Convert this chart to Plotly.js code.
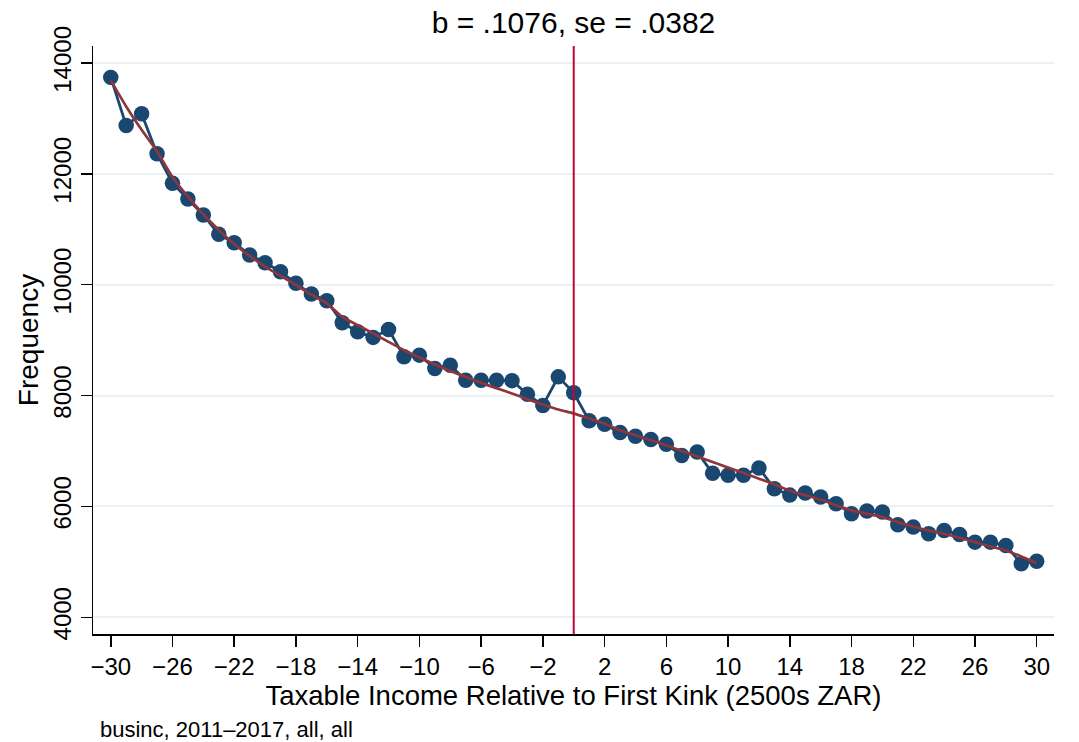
<!DOCTYPE html>
<html>
<head>
<meta charset="utf-8">
<script src="https://cdn.plot.ly/plotly-3.0.1.min.js"></script>
<style>html,body{margin:0;padding:0;background:#fff;}#chart{width:1079px;height:742px;}</style>
</head>
<body>
<div id="chart"></div>
<script>
// Bin positions (2500s ZAR relative to first kink)
const binX = [-30,-29,-28,-27,-26,-25,-24,-23,-22,-21,-20,-19,-18,-17,-16,-15,-14,-13,-12,-11,-10,-9,-8,-7,-6,-5,-4,-3,-2,-1,0,1,2,3,4,5,6,7,8,9,10,11,12,13,14,15,16,17,18,19,20,21,22,23,24,25,26,27,28,29,30];
// Observed frequency per bin
const frequency = [13740,12873,13084,12361,11832,11548,11259,10910,10759,10537,10398,10235,10025,9832,9711,9314,9151,9050,9194,8700,8730,8490,8549,8278,8278,8278,8270,8025,7821,8338,8050,7547,7483,7333,7266,7207,7122,6918,6983,6598,6562,6562,6694,6321,6205,6245,6170,6051,5870,5917,5900,5671,5628,5509,5568,5496,5357,5357,5297,4966,5014];
// Fitted counterfactual curve
const fitted = [13686,13216,12795,12403,11940,11590,11272,10988,10735,10519,10325,10162,9995,9820,9664,9422,9272,9122,8970,8820,8688,8562,8446,8338,8230,8134,8038,7935,7840,7749,7680,7586,7496,7375,7285,7194,7104,7001,6905,6802,6701,6604,6502,6399,6285,6205,6125,6020,5930,5870,5809,5718,5640,5568,5509,5436,5357,5279,5207,5099,4978];
const kinkX = 0;
const xTicks = [-30,-26,-22,-18,-14,-10,-6,-2,2,6,10,14,18,22,26,30];
const yTicks = [4000,6000,8000,10000,12000,14000];
const yTickLabels = ["4000","6000","8000","10000","12000","14000"];
const titleText = "b = .1076, se = .0382";
const xTitle = "Taxable Income Relative to First Kink (2500s ZAR)";
const yTitle = "Frequency";
const noteText = "businc, 2011\u20132017, all, all";

const FONT = "Liberation Sans, Arial, Helvetica, sans-serif";

const traces = [
  {
    x: binX, y: frequency, type: "scatter", mode: "lines+markers",
    line: {color: "#1a476f", width: 2.8},
    marker: {color: "#1a476f", size: 15.5},
    hoverinfo: "skip", showlegend: false
  },
  {
    x: binX, y: fitted, type: "scatter", mode: "lines",
    line: {color: "#90353b", width: 2.7, shape: "spline", smoothing: 0.6},
    hoverinfo: "skip", showlegend: false
  }
];

const layout = {
  width: 1079, height: 742,
  margin: {l: 93, r: 25, t: 46, b: 108},
  paper_bgcolor: "#ffffff", plot_bgcolor: "#ffffff",
  font: {family: FONT, color: "#000000"},
  showlegend: false,
  title: {text: titleText, font: {family: FONT, size: 30, color: "#000"}, x: 0.5, xref: "paper", xanchor: "center", y: 0.97, yref: "container", yanchor: "middle"},
  xaxis: {
    range: [-31.15, 31.12],
    tickmode: "array", tickvals: xTicks,
    ticks: "outside", ticklen: 11, tickwidth: 1.5, tickcolor: "#000",
    showline: true, linecolor: "#000", linewidth: 1.5,
    showgrid: false, zeroline: false,
    tickfont: {family: FONT, size: 24, color: "#000"},
    title: {text: xTitle, font: {family: FONT, size: 27.5, color: "#000"}, standoff: 3}
  },
  yaxis: {
    range: [3700, 14306],
    tickmode: "array", tickvals: yTicks, ticktext: yTickLabels,
    ticks: "outside", ticklen: 11, tickwidth: 1.5, tickcolor: "#000",
    tickangle: -90,
    showline: true, linecolor: "#000", linewidth: 1.5,
    showgrid: true, gridcolor: "#eaf2f3", gridwidth: 2,
    zeroline: false,
    tickfont: {family: FONT, size: 24, color: "#000"},
    title: {text: yTitle, font: {family: FONT, size: 28, color: "#000"}, standoff: 2}
  },
  shapes: [
    {type: "line", xref: "x", yref: "paper", x0: kinkX, x1: kinkX, y0: 0, y1: 1,
     line: {color: "#c10534", width: 2}, layer: "above"}
  ],
  annotations: [
    {text: noteText, xref: "paper", yref: "paper", x: 0.005, y: -0.163, xanchor: "left", yanchor: "middle",
     showarrow: false, font: {family: FONT, size: 22, color: "#000"}}
  ]
};

Plotly.newPlot("chart", traces, layout, {displayModeBar: false, staticPlot: true});
</script>
</body>
</html>
